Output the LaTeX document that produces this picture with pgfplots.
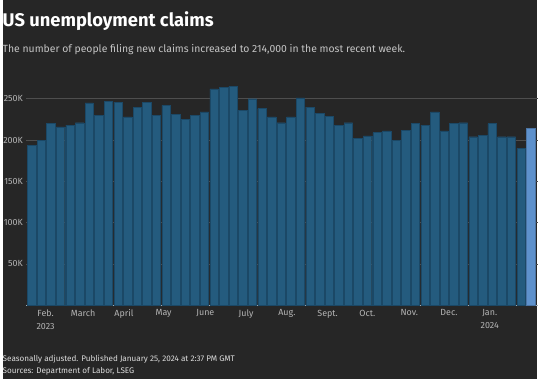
\documentclass[border=0pt]{standalone}
\usepackage{fontspec}
\setmainfont{Fira Sans}
\usepackage{pgfplots}
\pgfplotsset{compat=1.18}
\definecolor{bg}{HTML}{262626}
\definecolor{barc}{HTML}{245B7E}
\definecolor{baredge}{HTML}{1B4866}
\definecolor{lastc}{HTML}{5E91CC}
\definecolor{gridc}{HTML}{4E4E4E}
\definecolor{lab}{HTML}{B4B4B4}
\definecolor{axc}{HTML}{A8B0B8}
\definecolor{sub}{HTML}{C4C4C4}
\definecolor{foot}{HTML}{DCDCDC}
\begin{document}
\begin{tikzpicture}[x=1bp,y=1bp]
\fill[bg] (0,0) rectangle (538,381);
\begin{axis}[at={(24bp,74bp)}, anchor=south west, scale only axis,
  width=514bp, height=224.3bp,
  xmin=-0.55, xmax=52.72, ymin=0, ymax=270,
  axis x line*=bottom, axis y line*=left,
  x axis line style={draw=axc, line width=1bp, -},
  y axis line style={draw=none},
  major tick length=0pt,
  ytick={50,100,150,200,250},
  yticklabels={50K,100K,150K,200K,250K},
  ymajorgrids, grid style={draw=gridc, line width=0.8bp},
  yticklabel style={text=lab, font=\fontsize{9}{11}\selectfont, anchor=east},
  xtick={1.45,5.36,9.61,13.75,18.10,22.35,26.60,30.85,34.99,39.35,43.49,47.74},
  xticklabels={{Feb.\\2023},March,April,May,June,July,Aug.,Sept.,Oct.,Nov.,Dec.,{Jan.\\2024}},
  xticklabel style={text=lab, font=\fontsize{9}{13}\selectfont, align=center, yshift=-1bp},
]
\addplot[ybar, bar width=8.5bp, bar shift=0pt, fill=barc, draw=baredge, line width=0.4bp] table {
x y
0 194
1 200
2 220
3 216
4 218
5 221
6 245
7 230
8 247
9 246
10 228
11 240
12 246
13 230
14 242
15 231
16 225
17 230
18 234
19 262
20 264
21 265
22 236
23 250
24 238
25 228
26 221
27 228
28 251
29 240
30 232
31 229
32 218
33 221
34 202
35 205
36 209
37 211
38 200
39 212
40 220
41 218
42 234
43 211
44 220
45 221
46 204
47 206
48 220
49 204
50 204
51 190
};
\addplot[ybar, bar width=8.5bp, bar shift=0pt, fill=lastc, draw=lastc!80!black, line width=0.4bp] table {
x y
52 214
};
\end{axis}
\node[anchor=base west, inner sep=0, text=white, font=\bfseries\fontsize{18.5}{22}\selectfont] at (0,354.3) {US unemployment claims};
\node[anchor=base west, inner sep=0, text=sub, font=\fontsize{10.5}{12}\selectfont] at (0,327.7) {The number of people filing new claims increased to 214,000 in the most recent week.};
\node[anchor=base west, inner sep=0, text=foot, font=\fontsize{8.2}{10}\selectfont] at (0,17.5) {Seasonally adjusted. Published January 25, 2024 at 2:37 PM GMT};
\node[anchor=base west, inner sep=0, text=foot, font=\fontsize{8.2}{10}\selectfont] at (0,5.7) {Sources: Department of Labor, LSEG};
\useasboundingbox (0,0) rectangle (538,381);
\end{tikzpicture}
\end{document}
